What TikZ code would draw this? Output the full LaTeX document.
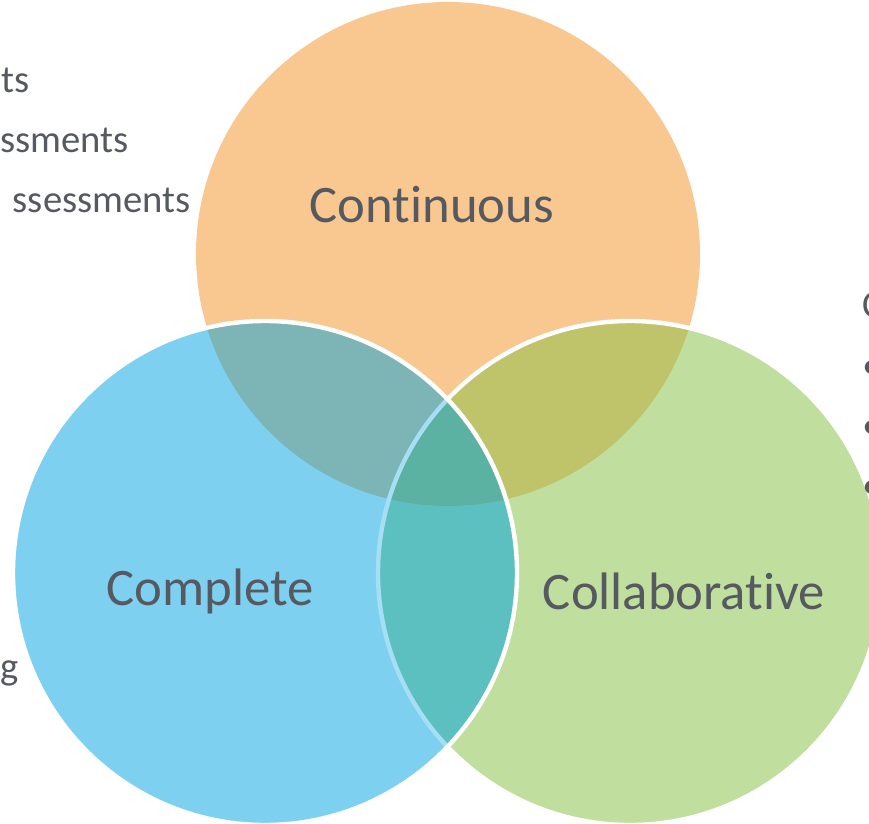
\documentclass[tikz,border=0pt]{standalone}
\usepackage{fontspec}
\setmainfont{Carlito}[Ligatures=NoCommon]
\definecolor{contorange}{HTML}{F8C890}
\definecolor{compblue}{HTML}{7ED0F0}
\definecolor{collgreen}{HTML}{C0DF9E}
\definecolor{obmix}{HTML}{7DB4B6}
\definecolor{ogmix}{HTML}{BFC46A}
\definecolor{bgmix}{HTML}{5DC0C0}
\definecolor{allmix}{HTML}{5BB2A2}
\definecolor{edgeblue}{HTML}{A6DEF3}
\definecolor{textgray}{HTML}{565A60}
\tikzset{
  lbl/.style={text=textgray,font=\fontsize{30}{36}\selectfont,inner sep=0pt},
  side/.style={text=textgray,font=\fontsize{22}{26}\selectfont,inner sep=0pt},
  rim/.style={draw=white,line width=2.5pt}
}

\begin{document}
\begin{tikzpicture}[x=0.02cm,y=-0.02cm]
    \useasboundingbox (0,0) rectangle (869,824);
    \clip (0,0) rectangle (869,824);
    % circles
    \fill[contorange] (448,254) circle (252);
    \fill[collgreen] (630,573) circle (252);
    \begin{scope}
      \clip (630,573) circle (252);
      \fill[ogmix] (448,254) circle (252);
    \end{scope}
    \draw[rim] (630,573) circle (252);
    \fill[compblue] (265,573) circle (252);
    \begin{scope}
      \clip (265,573) circle (252);
      \fill[obmix] (448,254) circle (252);
      \fill[bgmix] (630,573) circle (252);
      \clip (630,573) circle (252);
      \fill[allmix] (448,254) circle (252);
    \end{scope}
    \begin{scope}
      \clip (265,573) circle (252);
      \draw[edgeblue,line width=2.5pt] (630,573) circle (252);
    \end{scope}
    \draw[rim] (265,573) circle (252);
    % labels
    \node[lbl] (cont) at (432,205) {Continuous};
    \node[lbl] (comp) at (210,591) {Complete};
    \node[lbl] (coll) at (684,591) {Collaborative};
    % side texts
    \node[side,anchor=base east] (left1) at (30,93) {ts};
    \node[side,anchor=base east] (left2) at (129,153) {ssments};
    \node[side,anchor=base east] (left3) at (191,213) {ssessments};
    \node[side,anchor=base east] (left4) at (19,679) {g};
    \node[side,anchor=base west] (right1) at (862,317) {C};
    \node[side,anchor=west] (right2) at (862,370) {•};
    \node[side,anchor=west] (right3) at (862,430) {•};
    \node[side,anchor=west] (right4) at (862,490) {•};
  \end{tikzpicture}
\end{document}
